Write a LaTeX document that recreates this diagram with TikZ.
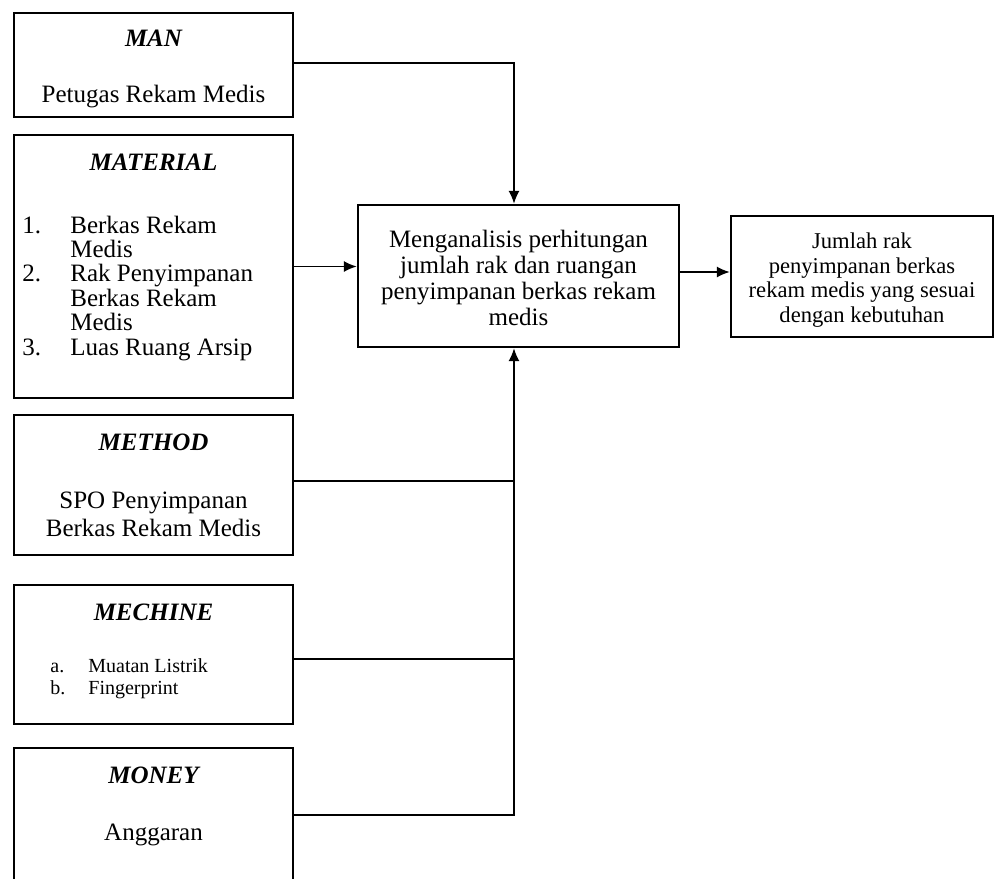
\documentclass[tikz,border=0pt]{standalone}
\usepackage{fontspec}
\setmainfont{Liberation Serif}
\usetikzlibrary{arrows.meta}

\tikzset{
	kotak/.style={draw, line width=1.1pt, minimum width=139.5pt, inner sep=0pt},
	garis/.style={line width=0.9pt},
	panah/.style={garis, -{Latex[length=6.5pt,width=5.5pt]}},
	judul/.style={inner sep=0pt, font=\fontsize{12.5}{15}\selectfont\bfseries\itshape},
	isi/.style={inner sep=0pt, align=center, font=\fontsize{12.5}{14}\selectfont},
}

\begin{document}
\begin{tikzpicture}[x=0.5pt, y=-0.5pt]
	\useasboundingbox (0,0) rectangle (998,879);
	\clip (0,0) rectangle (998,879);
	% kotak kiri
	\node[kotak, minimum height=52pt] (man) at (153.5,65) {};
	\node[kotak, minimum height=131.5pt] (material) at (153.5,266.5) {};
	\node[kotak, minimum height=70pt] (method) at (153.5,485) {};
	\node[kotak, minimum height=69.5pt] (mechine) at (153.5,654.5) {};
	\node[kotak, minimum height=67pt] (money) at (153.5,815) {};
	% proses dan hasil
	\node[kotak, minimum width=160.5pt, minimum height=71pt] (analisis) at (518.5,276) {};
	\node[kotak, minimum width=131pt, minimum height=60.5pt] (hasil) at (862,276.5) {};
	\coordinate (atas) at ([xshift=-2.25pt]analisis.north);
	\coordinate (bawah) at ([xshift=-2.25pt]analisis.south);

	\node[judul] (manJ) at (153.5,38) {MAN};
	\node[isi] (manI) at (153.5,97) {Petugas Rekam Medis};

	\node[judul] (materialJ) at (153.5,162) {MATERIAL};
	\node[isi, anchor=west, align=left, font=\fontsize{12.5}{11.6}\selectfont] (materialI) at (22,289)
		{\begin{tabular}{@{}p{24pt}@{}l@{}}1. & Berkas Rekam\\ & Medis\\ 2. & Rak Penyimpanan\\ & Berkas Rekam\\ & Medis\\[0.6pt] 3. & Luas Ruang Arsip\end{tabular}};

	\node[judul] (methodJ) at (153.5,442) {METHOD};
	\node[isi] (methodI) at (153.5,514) {SPO Penyimpanan\\Berkas Rekam Medis};

	\node[judul] (mechineJ) at (153.5,612) {MECHINE};
	\node[isi, anchor=west, align=left, font=\fontsize{10}{11}\selectfont] (mechineI) at (50,679)
		{\begin{tabular}{@{}p{19pt}@{}l@{}}a. & Muatan Listrik\\ b. & Fingerprint\end{tabular}};

	\node[judul] (moneyJ) at (153.5,775) {MONEY};
	\node[isi] (moneyI) at (153.5,835) {Anggaran};

	\node[isi, font=\fontsize{12.5}{13}\selectfont] (analisisI) at (518.5,278)
		{Menganalisis perhitungan\\jumlah rak dan ruangan\\penyimpanan berkas rekam\\medis};
	\node[isi, font=\fontsize{11.3}{12.3}\selectfont] (hasilI) at (862,280)
		{Jumlah rak\\penyimpanan berkas\\rekam medis yang sesuai\\dengan kebutuhan};

	% garis penghubung
	\draw[panah] ([yshift=1pt]man.east) -| (atas);
	\draw[panah] (material.east) -- (material.east -| analisis.west);
	\draw[garis] ([yshift=2pt]method.east) -- ([yshift=2pt]method.east -| bawah);
	\draw[garis] ([yshift=-2.25pt]mechine.east) -- ([yshift=-2.25pt]mechine.east -| bawah);
	\draw[panah] (money.east) -| (bawah);
	\draw[panah] ([yshift=2pt]analisis.east) -- ([yshift=2pt]analisis.east -| hasil.west);
\end{tikzpicture}
\end{document}
